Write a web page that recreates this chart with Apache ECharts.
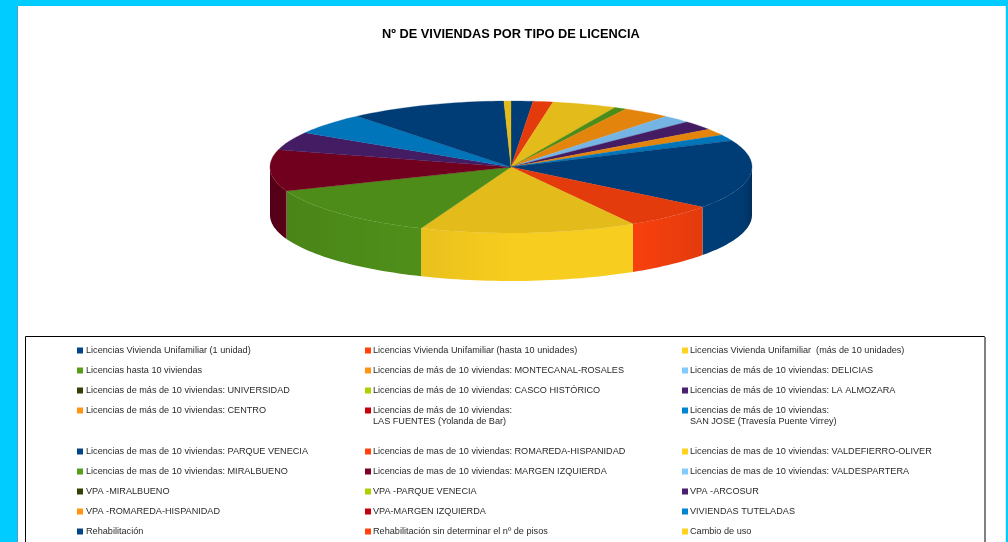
<!DOCTYPE html>
<html>
<head>
<meta charset="utf-8">
<style>html,body{margin:0;padding:0;background:#fff}#c{width:1008px;height:542px}</style>
<script src="https://cdn.jsdelivr.net/npm/echarts@6/dist/echarts.min.js"></script>
</head>
<body>
<div id="c"></div>
<script>
// Data
const chartTitle = 'Nº DE VIVIENDAS POR TIPO DE LICENCIA';
const categories = [
  'Licencias Vivienda Unifamiliar (1 unidad)',
  'Licencias Vivienda Unifamiliar (hasta 10 unidades)',
  'Licencias Vivienda Unifamiliar  (más de 10 unidades)',
  'Licencias hasta 10 viviendas',
  'Licencias de más de 10 viviendas: MONTECANAL-ROSALES',
  'Licencias de más de 10 viviendas: DELICIAS',
  'Licencias de más de 10 viviendas: UNIVERSIDAD',
  'Licencias de más de 10 viviendas: CASCO HISTÓRICO',
  'Licencias de más de 10 viviendas: LA ALMOZARA',
  'Licencias de más de 10 viviendas: CENTRO',
  'Licencias de más de 10 viviendas:\nLAS FUENTES (Yolanda de Bar)',
  'Licencias de más de 10 viviendas:\nSAN JOSE (Travesía Puente Virrey)',
  'Licencias de mas de 10 viviendas: PARQUE VENECIA',
  'Licencias de mas de 10 viviendas: ROMAREDA-HISPANIDAD',
  'Licencias de mas de 10 viviendas: VALDEFIERRO-OLIVER',
  'Licencias de mas de 10 viviendas: MIRALBUENO',
  'Licencias de mas de 10 viviendas: MARGEN IZQUIERDA',
  'Licencias de mas de 10 viviendas: VALDESPARTERA',
  'VPA -MIRALBUENO',
  'VPA -PARQUE VENECIA',
  'VPA -ARCOSUR',
  'VPA -ROMAREDA-HISPANIDAD',
  'VPA-MARGEN IZQUIERDA',
  'VIVIENDAS TUTELADAS',
  'Rehabilitación',
  'Rehabilitación sin determinar el nº de pisos',
  'Cambio de uso'
];
// Estimated shares (percent of the circle)
const values = [
  1.46, 1.33, 4.31, 0.81, 3.19, 1.92, 0, 0, 2.31, 1.64, 0, 1.5,
  16.92, 6.17, 14.53, 13.0, 10.11, 0, 0, 0, 4.5, 0, 0, 5.31,
  10.53, 0, 0.47
];
const colors = [
  '#004586','#ff420e','#ffd320','#579d1c','#ff950e','#83caff','#314004','#aecf00','#4b1f6f',
  '#ff950e','#c5000b','#0084d1','#004586','#ff420e','#ffd320','#579d1c','#7e0021','#83caff',
  '#314004','#aecf00','#4b1f6f','#ff950e','#c5000b','#0084d1','#004586','#ff420e','#ffd320'
];

// Layout
const FONT = '"Liberation Sans", Arial, sans-serif';
const CX = 511, CY = 167, RX = 241, RY = 66, DEPTH = 48;
const TOP_SHADE = 0.89;
const shadeStops = [[90,.62],[105,.84],[128,.89],[149,.97],[180,.97],[203,.91],[249,.84],[250,.68],[270,.66]];
const total = values.reduce((a, b) => a + b, 0);
const starts = [];
values.reduce((acc, v, i) => { starts[i] = acc; return acc + v; }, 0);

function pt(deg, dy){ const t = deg * Math.PI / 180; return [CX + RX * Math.sin(t), CY - RY * Math.cos(t) + (dy || 0)]; }
function shade(hex, f){
  const n = parseInt(hex.slice(1), 16);
  const c = [n >> 16, (n >> 8) & 255, n & 255].map(v => Math.round(v * f));
  return 'rgb(' + c.join(',') + ')';
}
function wallFactor(deg){
  for (let i = 1; i < shadeStops.length; i++) {
    const a = shadeStops[i-1], b = shadeStops[i];
    if (deg <= b[0]) return a[1] + (b[1]-a[1]) * (deg-a[0]) / (b[0]-a[0]);
  }
  return shadeStops[shadeStops.length-1][1];
}

function renderSlice(idx, color){
  return function(params, api){
    const v = api.value(0);
    if (!v) return null;
    const a0 = starts[idx] / total * 360, a1 = (starts[idx] + v) / total * 360;
    const children = [];
    // wall: only the front half of the rim is visible
    const w0 = Math.max(a0, 90), w1 = Math.min(a1, 270);
    if (w1 > w0) {
      const steps = Math.max(2, Math.ceil((w1-w0)/1.5)), pts = [], lower = [];
      for (let s = 0; s <= steps; s++) {
        const d = w0 + (w1-w0)*s/steps;
        pts.push(pt(d)); lower.push(pt(d, DEPTH));
      }
      const xs = pts.map(p => p[0]), xMin = Math.min(...xs), xMax = Math.max(...xs);
      const stops = [];
      for (let s = 0; s <= steps; s++) {
        const d = w0 + (w1-w0)*s/steps;
        stops.push({offset:(xs[s]-xMin)/(xMax-xMin), color:shade(color, wallFactor(d))});
      }
      stops.sort((p, q) => p.offset - q.offset);
      children.push({type:'polygon', shape:{points:pts.concat(lower.reverse())},
        style:{fill:{type:'linear', global:true, x:xMin, y:0, x2:xMax, y2:0, colorStops:stops}}});
    }
    // top face
    const top = [[CX, CY]];
    const n = Math.max(2, Math.ceil((a1-a0)/1.5));
    for (let s = 0; s <= n; s++) top.push(pt(a0 + (a1-a0)*s/n));
    const tc = shade(color, TOP_SHADE);
    children.push({type:'polygon', z2:10, shape:{points:top}, style:{fill:tc, stroke:tc, lineWidth:0.3}});
    return {type:'group', children};
  };
}

const LEGEND_SIZE = 9.15;
const firstLine = name => name.split('\n')[0];
const legendText = left => ({fontFamily:FONT, fontSize:LEGEND_SIZE, lineHeight:11, color:'#2a2a2a', padding:[0,0,0,left]});
const COL = [77, 365, 682], TEXT_X = [86, 373, 690], GROUP_TOP = [345, 446];
const legends = [], wrapped = [];
COL.forEach((left, c) => {
  [[0,4],[4,9]].forEach((rows, g) => {
    const names = [];
    for (let r = rows[0]; r < rows[1]; r++) names.push(categories[r*3 + c]);
    legends.push({
      orient:'vertical', left, top:GROUP_TOP[g], itemWidth:6, itemHeight:6, itemGap:9,
      padding:0, icon:'rect', selectedMode:false, formatter:firstLine,
      textStyle:legendText(TEXT_X[c] - left - 11), data:names
    });
  });
});
categories.forEach((name, i) => {
  const parts = name.split('\n');
  if (parts.length > 1) wrapped.push({
    type:'text', silent:true, x:TEXT_X[i % 3], y:417,
    style:{text:parts[1], fontFamily:FONT, fontSize:LEGEND_SIZE, fill:'#2a2a2a'}
  });
});

const chart = echarts.init(document.getElementById('c'), null, {renderer:'canvas'});
chart.setOption({
  animation:false,
  backgroundColor:'#00ccff',
  title:{
    text:chartTitle, left:382, top:28, padding:0,
    textStyle:{fontFamily:FONT, fontSize:12.8, fontWeight:'bold', color:'#000'}
  },
  legend:legends,
  graphic:[
    {type:'rect', z:-10, silent:true, shape:{x:18,y:6,width:988,height:536}, style:{fill:'#fff'}},
    {type:'rect', z:-9, silent:true, shape:{x:17,y:6,width:1,height:536}, style:{fill:'#4d9fc4'}},
    {type:'rect', z:-9, silent:true, shape:{x:1005,y:6,width:1,height:536}, style:{fill:'#cfeef9'}},
    {type:'rect', z:-8, silent:true, shape:{x:25.5,y:336.5,width:959,height:220}, style:{fill:'none', stroke:'#000', lineWidth:1}},
    {type:'rect', z:-8, silent:true, shape:{x:984,y:337,width:2,height:205}, style:{fill:'#808080'}}
  ].concat(wrapped),
  series:categories.map((name, i) => ({
    type:'custom', name, coordinateSystem:'none', silent:true,
    itemStyle:{color:colors[i]},
    renderItem:renderSlice(i, colors[i]),
    data:[[values[i]]]
  }))
});
</script>
</body>
</html>
